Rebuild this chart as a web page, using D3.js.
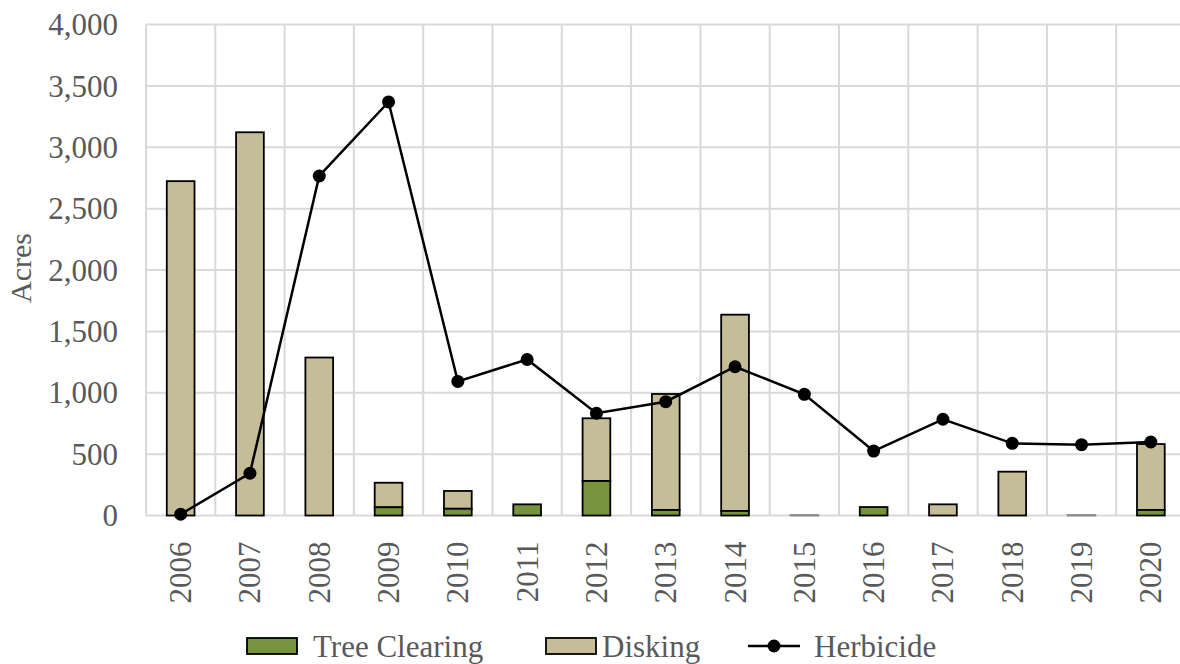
<!DOCTYPE html>
<html><head><meta charset="utf-8">
<script src="https://cdn.jsdelivr.net/npm/d3@7"></script>
<style>html,body{margin:0;padding:0;background:#fff;overflow:hidden}</style>
</head><body>
<svg id="c" width="1180" height="664"></svg>
<script>
const years = ["2006","2007","2008","2009","2010","2011","2012","2013","2014","2015","2016","2017","2018","2019","2020"];
const treeClearing = [0,0,0,67,55,91,281,45,37,0,69,0,0,0,45];
const disking = [2724,3122,1287,200,145,0,511,945,1599,4,0,91,357,4,537];
const herbicide = [10,344,2766,3369,1092,1271,833,927,1212,987,525,784,588,577,599];
const yTicks = [0,500,1000,1500,2000,2500,3000,3500,4000];

(function(){
const svg = d3.select("#c");
const pLeft = 146, pRight = 146 + 15*69.3, pTop = 24.5, pBottom = 515.5;
const x = d3.scaleBand().domain(years).range([pLeft, pRight]).paddingInner(0.6).paddingOuter(0.3);
const y = d3.scaleLinear().domain([0,4000]).range([pBottom, pTop]);
const font = "'Liberation Serif','Times New Roman',serif";
const txt = "#595959";
const green = "#77933C", beige = "#C4BD97";

const step = x.step();
const g = svg.append("g");
g.selectAll(".hg").data(yTicks).join("line")
  .attr("x1", pLeft).attr("x2", pRight).attr("y1", d=>y(d)).attr("y2", d=>y(d))
  .attr("stroke","#D9D9D9").attr("stroke-width",2);
g.selectAll(".vg").data(d3.range(years.length+1)).join("line")
  .attr("x1", i=>pLeft+i*step).attr("x2", i=>pLeft+i*step).attr("y1", pTop).attr("y2", pBottom)
  .attr("stroke","#D9D9D9").attr("stroke-width",2);

const yAxis = d3.axisLeft(y).tickValues(yTicks).tickSize(0).tickPadding(0).tickFormat(d3.format(","));
const ya = svg.append("g").attr("transform", `translate(${118},0)`).call(yAxis);
ya.select(".domain").remove();
ya.selectAll("text").attr("font-family", font).attr("font-size", 31).attr("fill", txt).attr("dy","0.33em");

const xAxis = d3.axisBottom(x).tickSize(0).tickPadding(0);
const xa = svg.append("g").attr("transform", `translate(0,${pBottom})`).call(xAxis);
xa.select(".domain").remove();
xa.selectAll("text").attr("font-family", font).attr("font-size", 31).attr("fill", txt)
  .attr("text-anchor","end").attr("transform","rotate(-90)").attr("x",-26).attr("y",0).attr("dy","0.34em");

svg.append("text").attr("transform", `translate(31,268) rotate(-90)`).attr("text-anchor","middle")
  .attr("font-family", font).attr("font-size", 30).attr("fill", txt).text("Acres");

const bw = x.bandwidth();
svg.append("g").selectAll("rect").data(years).join("rect")
  .attr("x", d=>x(d)).attr("width", bw)
  .attr("y", (d,i)=>y(treeClearing[i]+disking[i])).attr("height", (d,i)=>y(treeClearing[i])-y(treeClearing[i]+disking[i]))
  .attr("fill", beige).attr("stroke",(d,i)=>(treeClearing[i]+disking[i])<10?"#8a8a8a":"#000").attr("stroke-width",1.8);
svg.append("g").selectAll("rect").data(years).join("rect")
  .attr("x", d=>x(d)).attr("width", bw)
  .attr("y", (d,i)=>y(treeClearing[i])).attr("height", (d,i)=>y(0)-y(treeClearing[i]))
  .attr("fill", green).attr("stroke","#000").attr("stroke-width",1.8)
  .attr("display",(d,i)=>treeClearing[i]>0?null:"none");

const cx = d=>x(d)+bw/2;
const line = d3.line().x((d,i)=>cx(years[i])).y(d=>y(d));
svg.append("path").datum(herbicide).attr("d", line).attr("fill","none").attr("stroke","#000").attr("stroke-width",2.5);
svg.append("g").selectAll("circle").data(herbicide).join("circle")
  .attr("cx",(d,i)=>cx(years[i])).attr("cy",d=>y(d)).attr("r",6.5).attr("fill","#000");

const lg = svg.append("g").attr("font-family", font).attr("font-size", 31).attr("fill", txt);
lg.append("rect").attr("x",247).attr("y",638).attr("width",50).attr("height",16).attr("fill",green).attr("stroke","#000").attr("stroke-width",1.8);
lg.append("text").attr("x",313).attr("y",657).text("Tree Clearing");
lg.append("rect").attr("x",546).attr("y",638).attr("width",50).attr("height",16).attr("fill",beige).attr("stroke","#000").attr("stroke-width",1.8);
lg.append("text").attr("x",602).attr("y",657).text("Disking");
lg.append("line").attr("x1",748).attr("x2",800).attr("y1",646).attr("y2",646).attr("stroke","#000").attr("stroke-width",2.5);
lg.append("circle").attr("cx",774).attr("cy",646).attr("r",6.5).attr("fill","#000");
lg.append("text").attr("x",814).attr("y",657).text("Herbicide");
})();
</script>
</body></html>
